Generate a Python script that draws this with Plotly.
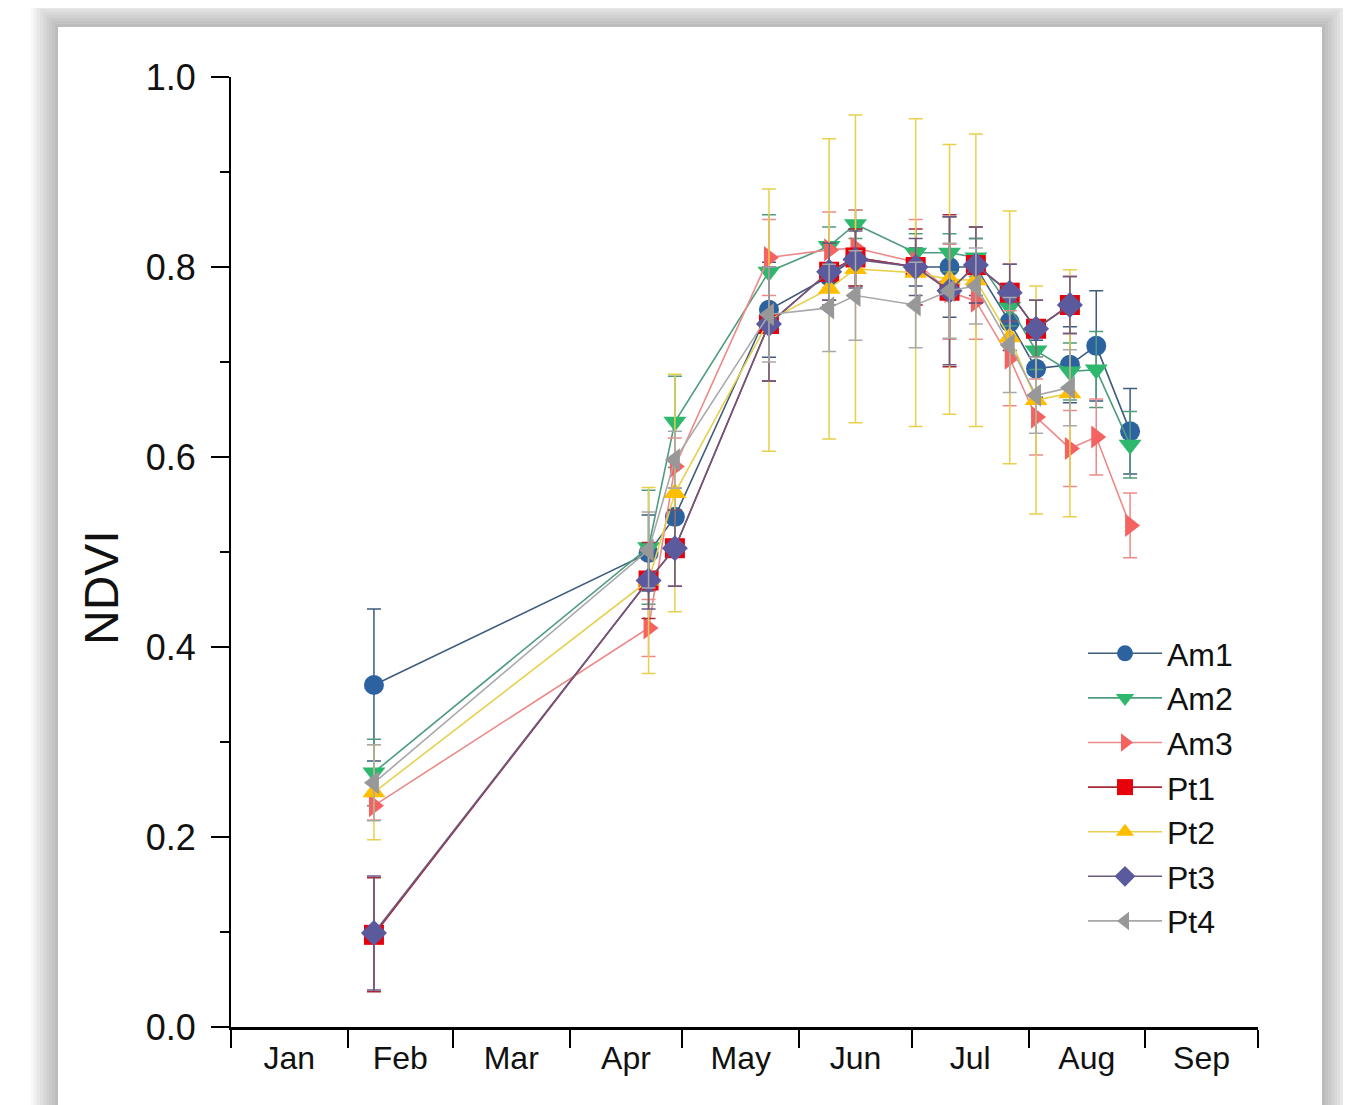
import plotly.graph_objects as go

# ---- data ----
dates = ["2021-02-08", "2021-04-22", "2021-04-29", "2021-05-24", "2021-06-09", "2021-06-16",
         "2021-07-02", "2021-07-11", "2021-07-18", "2021-07-27", "2021-08-03", "2021-08-12",
         "2021-08-19", "2021-08-28"]

am1 = [0.360, 0.499, 0.537, 0.755, 0.790, 0.810, 0.800, 0.800, 0.800, 0.742, 0.693, 0.697, 0.717, 0.627]
am2 = [0.268, 0.505, 0.637, 0.795, 0.822, 0.845, 0.815, 0.815, 0.810, 0.758, 0.712, 0.690, 0.692, 0.613]
am3 = [0.233, 0.420, 0.590, 0.810, 0.818, 0.820, 0.805, 0.774, 0.764, 0.704, 0.642, 0.609, 0.621, 0.528]
pt1 = [0.097, 0.470, 0.504, 0.740, 0.795, 0.810, 0.800, 0.775, 0.802, 0.773, 0.735, 0.760]
pt2 = [0.247, 0.470, 0.562, 0.744, 0.777, 0.798, 0.794, 0.787, 0.786, 0.726, 0.660, 0.667]
pt3 = [0.099, 0.470, 0.504, 0.740, 0.795, 0.808, 0.800, 0.775, 0.802, 0.773, 0.735, 0.760]
pt4 = [0.257, 0.502, 0.597, 0.750, 0.757, 0.770, 0.760, 0.775, 0.780, 0.718, 0.665, 0.673]

am1_err = [0.080, 0.040, 0.030, 0.050, 0.030, 0.030, 0.020, 0.053, 0.030, 0.030, 0.030, 0.040, 0.058, 0.045]
am2_err = [0.035, 0.060, 0.048, 0.060, 0.020, 0.015, 0.020, 0.020, 0.020, 0.020, 0.020, 0.030, 0.040, 0.035]
am3_err = [0.015, 0.030, 0.030, 0.040, 0.040, 0.040, 0.045, 0.050, 0.040, 0.050, 0.040, 0.040, 0.040, 0.034]
pt1_err = [0.060, 0.040, 0.040, 0.060, 0.030, 0.030, 0.040, 0.080, 0.040, 0.030, 0.030, 0.030]
pt2_err = [0.050, 0.098, 0.125, 0.138, 0.158, 0.162, 0.162, 0.142, 0.154, 0.133, 0.120, 0.130]
pt3_err = [0.060, 0.030, 0.040, 0.060, 0.030, 0.030, 0.030, 0.078, 0.040, 0.030, 0.030, 0.030]
pt4_err = [0.040, 0.040, 0.030, 0.050, 0.046, 0.047, 0.045, 0.050, 0.040, 0.050, 0.040, 0.040]

y_ticks = [0.0, 0.2, 0.4, 0.6, 0.8, 1.0]

series = [
    ("Am1", am1, am1_err, "circle", "#2D62A0", "#3E5C7C"),
    ("Am2", am2, am2_err, "triangle-down", "#2DB86E", "#4E9C7E"),
    ("Am3", am3, am3_err, "triangle-right", "#F46262", "#EC8A8A"),
    ("Pt1", pt1, pt1_err, "square", "#E8000B", "#A8283A"),
    ("Pt2", pt2, pt2_err, "triangle-up", "#FFBF00", "#E8D04C"),
    ("Pt3", pt3, pt3_err, "diamond", "#5A5A9C", "#6A5A80"),
    ("Pt4", pt4, pt4_err, "triangle-left", "#989898", "#A8A8A8"),
]

fig = go.Figure()
for name, vals, errs, sym, mcol, lcol in series:
    fig.add_trace(go.Scatter(
        x=dates[:len(vals)], y=vals, name=name, mode="lines+markers",
        line=dict(color=lcol, width=1.6),
        marker=dict(symbol=sym, size=20, color=mcol, line=dict(width=0)),
        error_y=dict(type="data", array=errs, visible=True, color=lcol, thickness=1.5, width=7),
    ))

# page body has an 8px margin, so the figure starts at (8, 8) on screen
OFF = 8
W, H = 1351, 1105
L, R, T, B = 231, 1258, 77, 1027   # plot area in screen pixels


def px(x):
    return (x - L) / (R - L)


def py(y):
    return (B - y) / (B - T)


shapes = []
for i in range(9, 0, -1):
    d = i * 3
    shapes.append(dict(type="rect", xref="paper", yref="paper", layer="below",
                       x0=px(58 - d), x1=px(1322 + d), y0=py(1140), y1=py(27 - d),
                       fillcolor="rgba(0,0,0,0.032)", line=dict(width=0)))
shapes.append(dict(type="rect", xref="paper", yref="paper", layer="below",
                   x0=px(58), x1=px(1322), y0=py(1140), y1=py(27),
                   fillcolor="white", line=dict(width=0)))

fig.update_layout(
    width=W - OFF, height=H - OFF,
    margin=dict(l=L - OFF, r=W - R, t=T - OFF, b=H - B, autoexpand=False),
    paper_bgcolor="white", plot_bgcolor="rgba(0,0,0,0)",
    font=dict(family="Liberation Sans, Arial, sans-serif", color="#111111"),
    shapes=shapes,
    showlegend=True,
    legend=dict(x=px(1083), y=py(626), xanchor="left", yanchor="top",
                font=dict(size=32, color="#111111"), bgcolor="rgba(0,0,0,0)",
                itemwidth=74, tracegroupgap=0, itemsizing="trace"),
    annotations=[dict(text="NDVI", xref="paper", yref="paper", x=px(101), y=py(588),
                      textangle=-90, showarrow=False, font=dict(size=48, color="#111111"),
                      xanchor="center", yanchor="middle")],
)

fig.update_xaxes(
    type="date", range=["2021-01-01", "2021-10-01"],
    dtick="M1", tick0="2021-01-01", tickformat="%b", ticklabelmode="period",
    showline=True, linecolor="black", linewidth=3, mirror=False,
    ticks="outside", ticklen=18, tickwidth=2, tickcolor="black",
    showgrid=False, zeroline=False, tickfont=dict(size=32, color="#111111"),
    ticklabelstandoff=-17,
)
fig.update_yaxes(
    range=[0, 1.0], tickvals=y_ticks, tickformat=".1f",
    showline=True, linecolor="black", linewidth=2,
    ticks="outside", ticklen=18, tickwidth=2, tickcolor="black",
    minor=dict(ticks="outside", ticklen=9, tickwidth=1.5, tickcolor="black", dtick=0.1, showgrid=False),
    showgrid=False, zeroline=False, tickfont=dict(size=36, color="#111111"),
    ticklabelstandoff=8,
)

fig.write_html("out.html")
